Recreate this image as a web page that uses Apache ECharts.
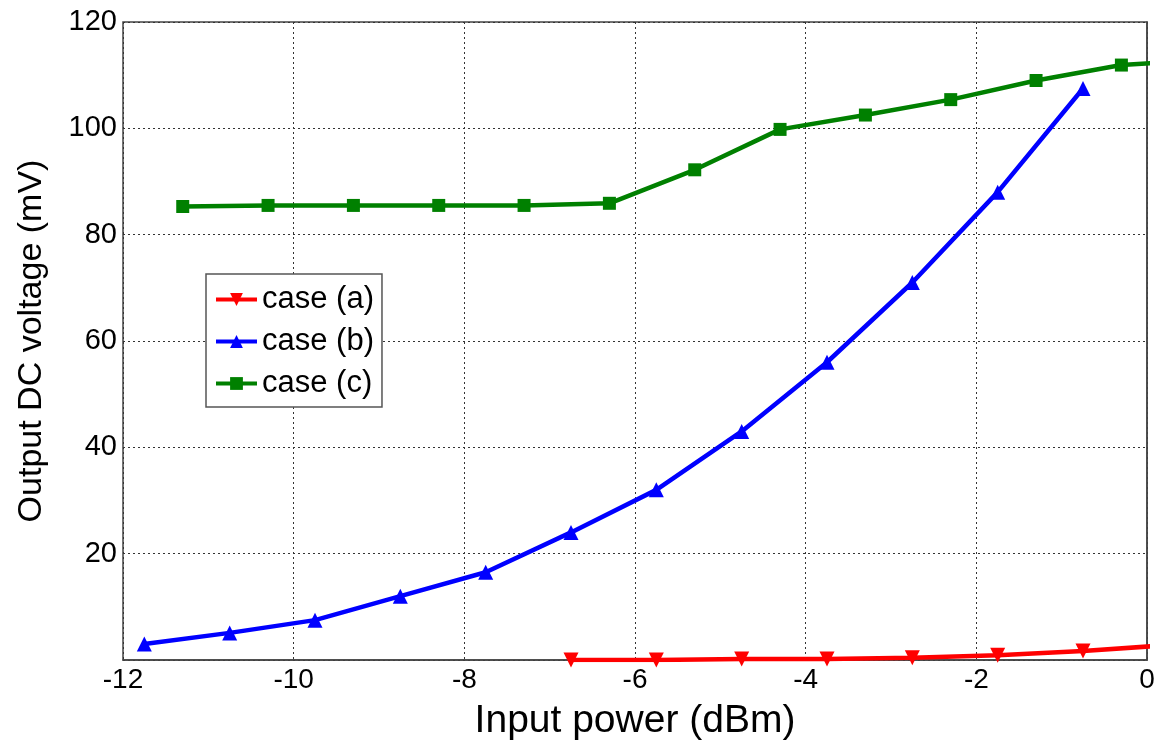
<!DOCTYPE html>
<html>
<head>
<meta charset="utf-8">
<script src="https://cdn.jsdelivr.net/npm/echarts@6/dist/echarts.min.js"></script>
<style>
html,body{margin:0;padding:0;background:#fff;}
#chart{width:1155px;height:741px;}
</style>
</head>
<body>
<div id="chart"></div>
<script>
// Data
var caseA_x = [-6.75, -5.75, -4.75, -3.75, -2.75, -1.75, -0.75, 0.25];
var caseA_y = [0.0, 0.0, 0.2, 0.2, 0.4, 0.9, 1.7, 2.8];
var caseB_x = [-11.75, -10.75, -9.75, -8.75, -7.75, -6.75, -5.75, -4.75, -3.75, -2.75, -1.75, -0.75];
var caseB_y = [3.0, 5.1, 7.5, 12.0, 16.5, 24.0, 32.0, 43.0, 56.0, 71.0, 88.0, 107.5];
var caseC_x = [-11.3, -10.3, -9.3, -8.3, -7.3, -6.3, -5.3, -4.3, -3.3, -2.3, -1.3, -0.3, 0.7];
var caseC_y = [85.3, 85.5, 85.5, 85.5, 85.5, 85.9, 92.2, 99.8, 102.5, 105.4, 109.0, 111.9, 112.9];
var seriesNames = ['case (a)', 'case (b)', 'case (c)'];
var xTicks = { min: -12, max: 0, interval: 2 };
var yTicks = { min: 0, max: 120, interval: 20 };

function pairs(xs, ys) { return xs.map(function (x, i) { return [x, ys[i]]; }); }

var chart = echarts.init(document.getElementById('chart'), null, { renderer: 'canvas' });
var font = '"Liberation Sans", Arial, sans-serif';
chart.setOption({
  animation: false,
  backgroundColor: '#fff',
  grid: { left: 123, right: 8, top: 22, bottom: 81, containLabel: false, outerBoundsMode: 'none',
    show: true, borderColor: '#444', borderWidth: 1.5, backgroundColor: '#fff' },
  xAxis: {
    type: 'value', min: xTicks.min, max: xTicks.max, interval: xTicks.interval,
    name: 'Input power (dBm)', nameLocation: 'middle', nameGap: 42,
    nameTextStyle: { fontFamily: font, fontSize: 39, color: '#000' },
    axisLine: { show: true, onZero: false, lineStyle: { color: '#444', width: 1.5 } },
    axisTick: { show: false },
    axisLabel: { fontFamily: font, fontSize: 28, color: '#000', margin: 6 },
    splitLine: { show: true, lineStyle: { color: '#333', type: [2, 3], width: 1 } }
  },
  yAxis: {
    type: 'value', min: yTicks.min, max: yTicks.max, interval: yTicks.interval,
    name: 'Output DC voltage (mV)', nameLocation: 'middle', nameGap: 74,
    nameTextStyle: { fontFamily: font, fontSize: 34, color: '#000' },
    axisLine: { show: true, lineStyle: { color: '#444', width: 1.5 } },
    axisTick: { show: false },
    axisLabel: { fontFamily: font, fontSize: 29, color: '#000', margin: 6,
      formatter: function (v) { return v === 0 ? '' : String(v); } },
    splitLine: { show: true, lineStyle: { color: '#333', type: [2, 3], width: 1 } }
  },
  legend: {
    orient: 'vertical', left: 206, top: 274,
    data: seriesNames,
    backgroundColor: '#fff', borderColor: '#555', borderWidth: 1.5,
    padding: [10, 8, 8, 8], itemGap: 11, itemWidth: 41, itemHeight: 16,
    lineStyle: { width: 4 },
    textStyle: { fontFamily: font, fontSize: 31, color: '#000' }
  },
  series: [
    { name: seriesNames[0], type: 'line', data: pairs(caseA_x, caseA_y), clip: true,
      color: '#ff0000', lineStyle: { width: 4.5, color: '#ff0000' },
      symbol: 'triangle', symbolRotate: 180, symbolSize: 15,
      itemStyle: { color: '#ff0000' } },
    { name: seriesNames[1], type: 'line', data: pairs(caseB_x, caseB_y), clip: true,
      color: '#0000ff', lineStyle: { width: 4.5, color: '#0000ff' },
      symbol: 'triangle', symbolSize: 15,
      itemStyle: { color: '#0000ff' } },
    { name: seriesNames[2], type: 'line', data: pairs(caseC_x, caseC_y), clip: true,
      color: '#008000', lineStyle: { width: 4.5, color: '#008000' },
      symbol: 'rect', symbolSize: 13,
      itemStyle: { color: '#008000' } }
  ]
});
</script>
</body>
</html>
